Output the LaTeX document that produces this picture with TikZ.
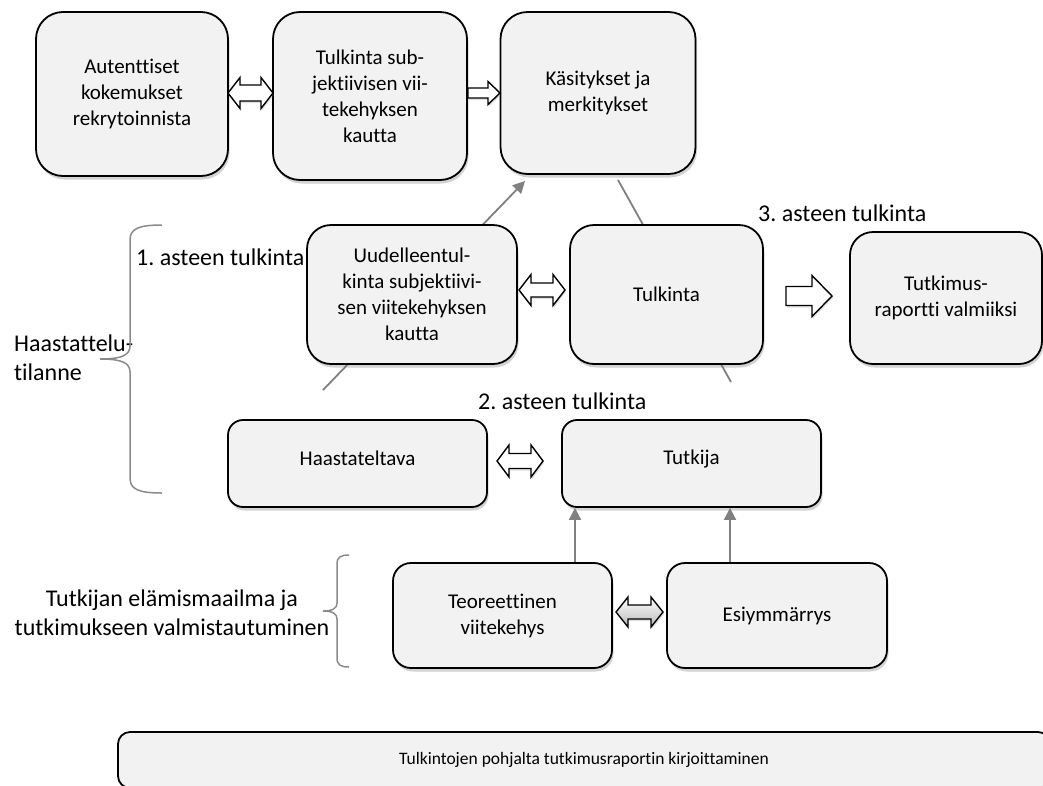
\documentclass[tikz,border=0pt]{standalone}
\usepackage{fontspec}
\setmainfont{Carlito}[Ligatures=NoCommon]
\frenchspacing
\usetikzlibrary{shadows,calc,backgrounds,arrows.meta}
\definecolor{boxfill}{HTML}{F2F2F2}
\definecolor{linegray}{HTML}{808080}
\definecolor{bracegray}{HTML}{8A8A8A}

\begin{document}
\begin{tikzpicture}[x=1pt,y=-1pt,
  box/.style={draw=black, line width=1.8pt, fill=boxfill, inner sep=0pt, align=center,
    font=\fontsize{21}{26}\selectfont,
    drop shadow={shadow xshift=1.5pt, shadow yshift=-3.5pt, opacity=0.35}},
  lbl/.style={inner sep=0pt, font=\fontsize{24}{29}\selectfont},
  blockarrow/.style={draw=black, line width=1.4pt, fill=white, line join=miter,
    drop shadow={shadow xshift=1pt, shadow yshift=-2pt, opacity=0.25}},
  % double block arrow: length / head width / shaft width / head length
  pics/dblarrow/.style args={#1/#2/#3/#4}{code={
    \path[blockarrow, pic actions]
      (-#1/2,0) -- (-#1/2+#4,-#2/2) -- (-#1/2+#4,-#3/2) -- (#1/2-#4,-#3/2)
      -- (#1/2-#4,-#2/2) -- (#1/2,0) -- (#1/2-#4,#2/2) -- (#1/2-#4,#3/2)
      -- (-#1/2+#4,#3/2) -- (-#1/2+#4,#2/2) -- cycle;}},
  % single block arrow pointing right: same parameters
  pics/sglarrow/.style args={#1/#2/#3/#4}{code={
    \path[blockarrow, pic actions]
      (-#1/2,-#3/2) -- (#1/2-#4,-#3/2) -- (#1/2-#4,-#2/2) -- (#1/2,0)
      -- (#1/2-#4,#2/2) -- (#1/2-#4,#3/2) -- (-#1/2,#3/2) -- cycle;}},
  link/.style={draw=linegray, line width=1.8pt},
  linkarrow/.style={link, -{Triangle[width=12pt,length=12pt]}},
  brace/.style={draw=bracegray, line width=1.5pt}
]
\useasboundingbox (0,0) rectangle (1043,785);

% Boxes
\node[box, rounded corners=27pt, minimum width=192pt, minimum height=164pt] (auth) at (132,94)
  {Autenttiset\\kokemukset\\rekrytoinnista};
\node[box, rounded corners=27pt, minimum width=194pt, minimum height=168pt] (tulsub) at (370,96)
  {Tulkinta sub-\\jektiivisen vii-\\tekehyksen\\kautta};
\node[box, rounded corners=27pt, minimum width=195pt, minimum height=162pt] (kas) at (598,93)
  {Käsitykset ja\\merkitykset};
\node[box, rounded corners=24pt, minimum width=210pt, minimum height=139pt] (uud) at (412,294.5)
  {Uudelleentul-\\kinta subjektiivi-\\sen viitekehyksen\\kautta};
\node[box, rounded corners=24pt, minimum width=193pt, minimum height=139pt] (tul) at (666.5,294.5)
  {Tulkinta};
\node[box, rounded corners=23pt, minimum width=192pt, minimum height=132pt] (rap) at (946,298)
  {Tutkimus-\\raportti valmiiksi};
\node[box, rounded corners=15pt, minimum width=259pt, minimum height=87pt] (haas) at (357.5,463.5)
  {\raisebox{5pt}[\height][\depth]{Haastateltava}};
\node[box, rounded corners=15pt, minimum width=259pt, minimum height=87pt] (tutkija) at (691.5,463.5)
  {\raisebox{5pt}[\height][\depth]{Tutkija}};
\node[box, rounded corners=18pt, minimum width=219pt, minimum height=105pt] (teo) at (502.5,615.5)
  {Teoreettinen\\viitekehys};
\node[box, rounded corners=18pt, minimum width=220pt, minimum height=105pt] (esi) at (777,615.5)
  {Esiymmärrys};
\node[box, rounded corners=12pt, minimum width=932pt, minimum height=56pt,
  font=\fontsize{17.5}{21}\selectfont] (kirj) at (584,760)
  {Tulkintojen pohjalta tutkimusraportin kirjoittaminen};

% Block arrows between boxes
\pic at (250.5,93) {dblarrow=45/31/16/12};
\pic at (484,93) {sglarrow=32/23/10/12};
\pic at (542,290) {dblarrow=46/31/14/12};
\pic at (809,296) {sglarrow=46/41/19/20};
\pic at (520,461) {dblarrow=46/32/15/12};
\pic[top color=white, bottom color=gray!55] at (639.5,612) {dblarrow=47/30/14/12};

% Level labels
\node[lbl, anchor=west] (lev1) at (136,257) {1. asteen tulkinta};
\node[lbl, anchor=west] (lev2) at (478,401) {2. asteen tulkinta};
\node[lbl, anchor=west] (lev3) at (758,213) {3. asteen tulkinta};
\node[lbl, anchor=west, align=left] (situ) at (14,358) {Haastattelu-\\tilanne};
\node[lbl, align=center] (world) at (172,613) {Tutkijan elämismaailma ja\\tutkimukseen valmistautuminen};

% Braces
\draw[brace] (162,225) .. controls (138,225) and (130,229) .. (130,240) -- (130,346)
  .. controls (130,355) and (122,359) .. (100,359)
  .. controls (122,359) and (130,363) .. (130,372) -- (130,478)
  .. controls (130,489) and (138,493) .. (162,493);
\draw[brace] (349,555) .. controls (341,555) and (337,557) .. (337,564) -- (337,603)
  .. controls (337,608) and (333,611) .. (323,611)
  .. controls (333,611) and (337,614) .. (337,619) -- (337,658)
  .. controls (337,665) and (341,667) .. (349,667);

% Grey connectors
\coordinate (d1s) at (323,390);
\coordinate (d1e) at (525,181);
\coordinate (d2s) at (731,382);
\coordinate (d2e) at (618,180);
\coordinate (vl) at (575,0);
\coordinate (vr) at (730,0);
\begin{pgfonlayer}{background}
  \draw[linkarrow] (d1s) -- (d1e);
  \draw[link] (d2s) -- (d2e);
\end{pgfonlayer}
\draw[linkarrow] (teo.north -| vl) -- (tutkija.south -| vl);
\draw[linkarrow] (esi.north -| vr) -- (tutkija.south -| vr);
\end{tikzpicture}
\end{document}
